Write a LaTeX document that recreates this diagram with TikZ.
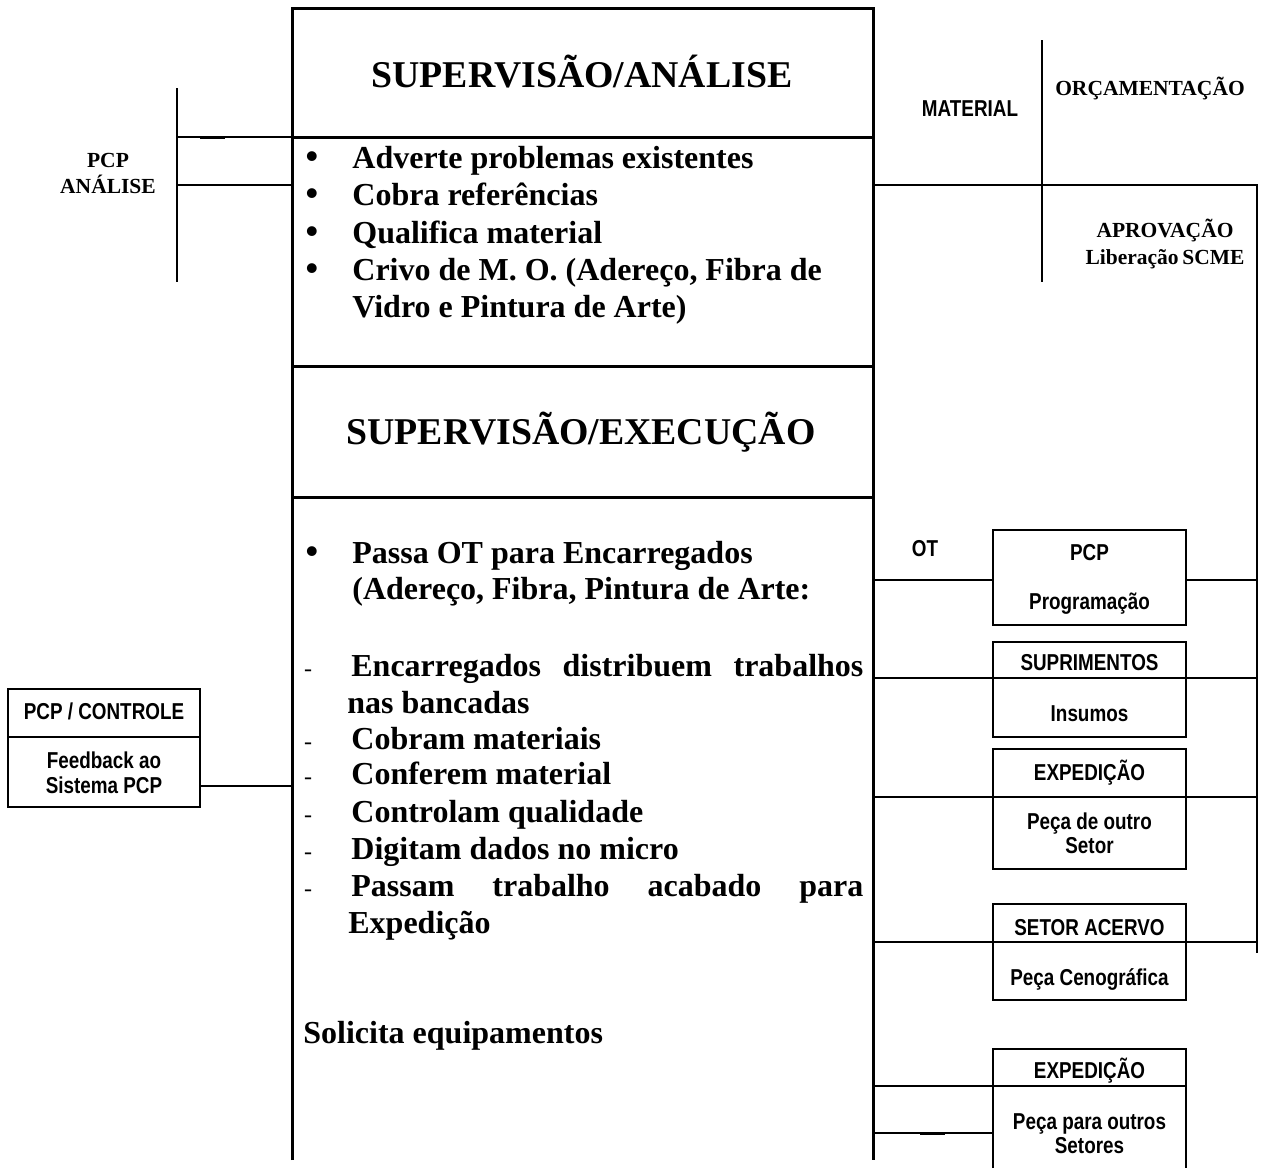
\documentclass[tikz,border=0pt]{standalone}
\usepackage{fontspec}
\setmainfont{Liberation Serif}
\newfontfamily\narrowsans[FakeStretch=0.82]{Liberation Sans}
\begin{document}
\begin{tikzpicture}[x=0.5pt,y=-0.5pt]
\tikzset{
  colline/.style={line width=1.5pt},
  link/.style={line width=0.8pt},
  boxed/.style={draw, line width=0.9pt},
  headline/.style={font=\fontsize{18.9}{22}\selectfont\bfseries, inner sep=0pt, anchor=base},
  bodytext/.style={font=\fontsize{16}{18}\selectfont\bfseries, inner sep=0pt, anchor=base west},
  itemmark/.style={font=\fontsize{18}{20}\selectfont\bfseries, inner sep=0pt, anchor=base},
  dashmark/.style={font=\fontsize{12}{14}\selectfont, inner sep=0pt, anchor=base},
  smallserif/.style={font=\fontsize{10.75}{12}\selectfont\bfseries, inner sep=0pt, anchor=base},
  boxtext/.style={font=\narrowsans\fontsize{11.5}{13}\selectfont\bfseries, inner sep=0pt, anchor=base}
}
\useasboundingbox (0,0) rectangle (1274,1168);

% ---- central column ----
\coordinate (colTL) at (292,8);
\coordinate (colTR) at (873,8);
\coordinate (colBL) at (292,1160);
\coordinate (colBR) at (873,1160);
\draw[colline] (colBL) -- (colTL) -- (colTR) -- (colBR);
\foreach \yy in {137,366,497}
  \draw[colline] (292,\yy) -- (873,\yy);

\node[headline] (tAna) at (582,87) {SUPERVISÃO/ANÁLISE};
\node[headline] (tExe) at (581,444) {SUPERVISÃO/EXECUÇÃO};

% analysis items
\foreach \yy/\nm in {168.5/b1,205.5/b2,243/b3,280.5/b4}
  \node[itemmark] (\nm) at (312,\yy) {\textbullet};
\node[bodytext] (a1) at (352,168.5) {Adverte problemas existentes};
\node[bodytext] (a2) at (352,205.5) {Cobra referências};
\node[bodytext] (a3) at (352,243) {Qualifica material};
\node[bodytext] (a4) at (352,280.5) {Crivo de M. O. (Adereço, Fibra de};
\node[bodytext] (a5) at (352,317.5) {Vidro e Pintura de Arte)};

% execution items
\node[itemmark] (b5) at (312,563) {\textbullet};
\node[bodytext] (e1) at (352,563) {Passa OT para Encarregados};
\node[bodytext] (e2) at (352,599) {(Adereço, Fibra, Pintura de Arte:};
\foreach \yy/\nm in {676/d1,749/d2,784/d3,822/d4,859/d5,896/d6}
  \node[dashmark] (\nm) at (308,\yy) {-};
\node[bodytext] (e3) at (351,676) {\hbox to 256pt{Encarregados\hfill distribuem\hfill trabalhos}};
\node[bodytext] (e4) at (347,713) {nas bancadas};
\node[bodytext] (e5) at (351,749) {Cobram materiais};
\node[bodytext] (e6) at (351,784) {Conferem material};
\node[bodytext] (e7) at (351,822) {Controlam qualidade};
\node[bodytext] (e8) at (351,859) {Digitam dados no micro};
\node[bodytext] (e9) at (351,896) {\hbox to 256pt{Passam\hfill trabalho\hfill acabado\hfill para}};
\node[bodytext] (e10) at (348,933) {Expedição};
\node[bodytext] (e11) at (303,1043) {Solicita equipamentos};

% ---- PCP analysis bracket (left) ----
\coordinate (anTop) at (177,88);
\coordinate (anBot) at (177,282);
\draw[link] (anTop) -- (anBot);
\draw[link] (177,137) -- (colTL |- 0,137);
\draw[link] (177,185) -- (colTL |- 0,185);
\draw[line width=1.5pt] (200,137) -- (225,137);
\node[smallserif] (pcpA) at (108,167) {PCP};
\node[smallserif] (pcpB) at (108,193) {ANÁLISE};

% ---- material / budget bracket (right) ----
\coordinate (matTop) at (1042,40);
\coordinate (matBot) at (1042,282);
\draw[link] (matTop) -- (matBot);
\coordinate (rTop) at (1257,185);
\coordinate (rBot) at (1257,953);
\draw[link] (colTR |- rTop) -- (rTop) -- (rBot);
\node[boxtext] (mat) at (970,116) {MATERIAL};
\node[smallserif] (orc) at (1150,95) {ORÇAMENTAÇÃO};
\node[smallserif] (apr) at (1165,237) {APROVAÇÃO};
\node[smallserif] (lib) at (1165,264) {Liberação\,SCME};

% ---- boxes on the right ----
% PCP / Programacao
\draw[boxed] (993,530) rectangle (1186,625);
\node[boxtext] (pcp) at (1089.5,560) {PCP};
\node[boxtext] (prog) at (1089.5,609) {Programação};
\node[boxtext] (ot) at (925,556) {OT};
\draw[link] (colTR |- 0,580) -- (993,580);
\draw[link] (1186,580) -- (rTop |- 0,580);

% Suprimentos
\draw[boxed] (993,642) rectangle (1186,737);
\node[boxtext] (sup) at (1089.5,670) {SUPRIMENTOS};
\node[boxtext] (ins) at (1089.5,721) {Insumos};
\draw[link] (colTR |- 0,678) -- (rTop |- 0,678);

% Expedicao (peca de outro setor)
\draw[boxed] (993,749) rectangle (1186,869);
\node[boxtext] (exp1) at (1089.5,780) {EXPEDIÇÃO};
\node[boxtext] (po1) at (1089.5,829) {Peça de outro};
\node[boxtext] (po2) at (1089.5,853) {Setor};
\draw[link] (colTR |- 0,797) -- (rTop |- 0,797);

% Setor acervo
\draw[boxed] (993,904) rectangle (1186,1000);
\node[boxtext] (ace) at (1089.5,935) {SETOR ACERVO};
\node[boxtext] (cen) at (1089.5,985) {Peça Cenográfica};
\draw[link] (colTR |- 0,942) -- (rTop |- 0,942);

% Expedicao (peca para outros setores)
\draw[boxed] (993,1168) -- (993,1049) -- (1186,1049) -- (1186,1168);
\draw[link] (colTR |- 0,1086) -- (1186,1086);
\draw[link] (colTR |- 0,1133) -- (993,1133);
\draw[line width=1.5pt] (920,1133) -- (945,1133);
\node[boxtext] (exp2) at (1089.5,1078) {EXPEDIÇÃO};
\node[boxtext] (pp1) at (1089.5,1129) {Peça para outros};
\node[boxtext] (pp2) at (1089.5,1153) {Setores};

% ---- PCP / controle box (left) ----
\draw[boxed] (8,689) rectangle (200,807);
\draw[link] (8,737) -- (200,737);
\node[boxtext] (ctl) at (104,719) {PCP / CONTROLE};
\node[boxtext] (fb1) at (104,768) {Feedback ao};
\node[boxtext] (fb2) at (104,793) {Sistema PCP};
\draw[link] (200,786) -- (colTL |- 0,786);
\end{tikzpicture}
\end{document}
